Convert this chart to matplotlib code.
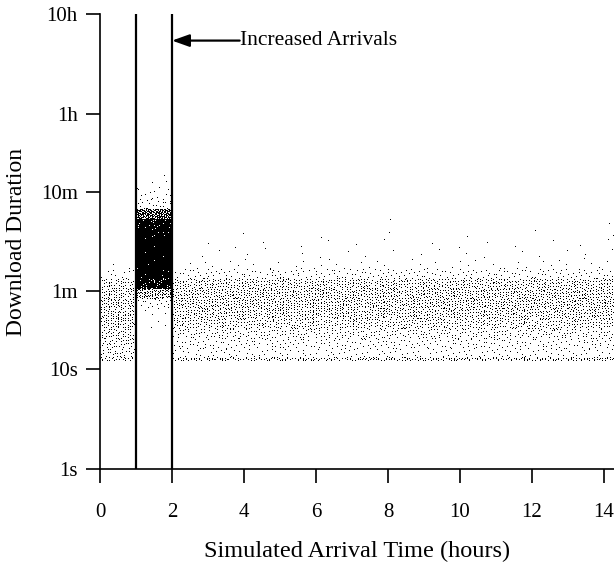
import numpy as np
import matplotlib
matplotlib.use('Agg')
import matplotlib.pyplot as plt

plt.rcParams['font.family'] = ['Liberation Serif', 'DejaVu Serif']
plt.rcParams['font.size'] = 15

# y ticks (seconds) and labels
ytick_vals = [1, 10, 60, 600, 3600, 36000]
ytick_labels = ['1s', '10s', '1m', '10m', '1h', '10h']
xtick_vals = [0, 2, 4, 6, 8, 10, 12, 14]

# surge window (hours)
surge_start = 1
surge_end = 2

# dot counts, per log10(seconds) band
log_edges = [1.08, 1.11, 1.2, 1.3, 1.4, 1.5, 1.6, 1.7, 1.8, 1.9, 2.0,
             2.1, 2.2, 2.3, 2.4, 2.5, 2.6, 2.7, 2.8, 2.9, 3.0]
segments = [(0.0, 1.0), (1.0, 2.0), (2.0, 14.3)]
counts_before = [20, 30, 36, 43, 50, 54, 58, 54, 43, 11, 2, 1, 0, 0, 0, 0, 0, 0, 0, 0]
counts_surge = [0, 0, 0, 0, 3, 5, 18, 100, 520, 680, 760, 780, 780, 720, 560, 240, 20, 10, 4, 1]
counts_after = [300, 140, 220, 340, 520, 650, 700, 700, 620, 200, 40, 18, 14, 6, 2, 0, 0, 0, 0, 0]

G = 1.32471795724474602596


def spread_points(t0, t1, counts, start):
	"""
	Lay the counted dots of each band out evenly (R2 sequence) in small
	cells about 10 px wide, so each cell gets its share of the count
	"""
	n_chunks = max(1, int(round((t1 - t0) * 3.6)))
	ts, ds = [], []
	idx = start
	for j, c in enumerate(counts):
		lo, hi = log_edges[j], log_edges[j + 1]
		for k in range(n_chunks):
			n = c * (k + 1) // n_chunks - c * k // n_chunks
			i = np.arange(idx, idx + n)
			idx += n
			u = (0.5 + i / G) % 1.0
			v = (0.5 + i / G ** 2) % 1.0
			ts.append(t0 + (t1 - t0) * (k + u) / n_chunks)
			ds.append(10 ** (lo + (hi - lo) * v))
	return np.concatenate(ts), np.concatenate(ds), idx


fig = plt.figure(figsize=(6.14, 5.62), dpi=100)
ax = fig.add_axes([100 / 614, 93 / 562, 514 / 614, 455 / 562])

start = 1
for (t0, t1), cnt in zip(segments, [counts_before, counts_surge, counts_after]):
	t, d, start = spread_points(t0, t1, cnt, start)
	ax.plot(t, d, ',', color='black')

ax.axvline(surge_start, color='black', lw=1.6)
ax.axvline(surge_end, color='black', lw=1.6)

ax.set_yscale('log')
ax.set_ylim(1, 36000)
ax.set_xlim(0, 14.28)
ax.set_yticks(ytick_vals)
ax.set_yticklabels(ytick_labels)
ax.minorticks_off()
ax.set_xticks(xtick_vals)

for side in ['top', 'right']:
	ax.spines[side].set_visible(False)
for side in ['left', 'bottom']:
	ax.spines[side].set_linewidth(1.2)
ax.tick_params(axis='both', direction='out', length=10, width=1.2)
ax.tick_params(axis='x', pad=14.5)
ax.tick_params(axis='y', pad=6)

ax.set_xlabel('Simulated Arrival Time (hours)', fontsize=17.5)
ax.set_ylabel('Download Duration', fontsize=17)
ax.xaxis.set_label_coords(0.5, -0.158)
ax.yaxis.set_label_coords(-0.142, 0.5)

arrow_y = 19500
ax.annotate('', xy=(surge_end, arrow_y), xytext=(3.88, arrow_y),
			arrowprops=dict(arrowstyle='-|>,head_length=0.7,head_width=0.25',
							lw=1.6, color='black', shrinkA=0, shrinkB=0))
ax.text(3.88, arrow_y, 'Increased Arrivals', ha='left', va='center', fontsize=15.5)

fig.savefig('out.png', dpi=100)
